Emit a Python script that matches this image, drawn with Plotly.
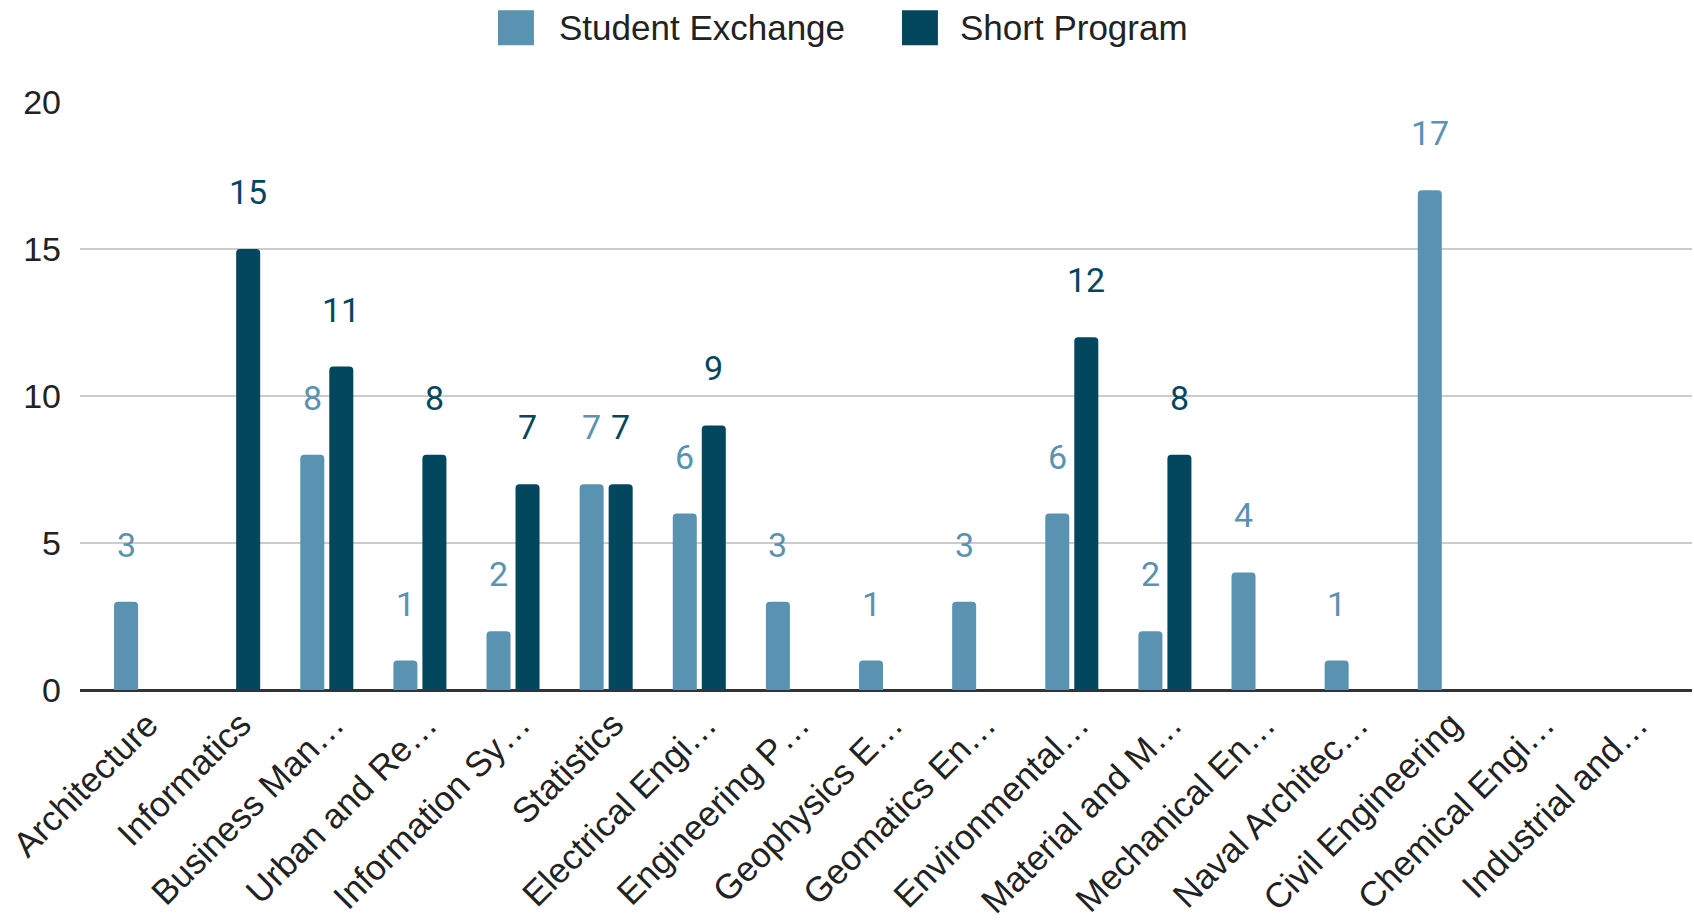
import plotly.graph_objects as go

categories = ["Architecture", "Informatics", "Business Man…", "Urban and Re…",
              "Information Sy…", "Statistics", "Electrical Engi…", "Engineering P…",
              "Geophysics E…", "Geomatics En…", "Environmental…", "Material and M…",
              "Mechanical En…", "Naval Architec…", "Civil Engineering", "Chemical Engi…",
              "Industrial and…"]
student_exchange = [3, None, 8, 1, 2, 7, 6, 3, 1, 3, 6, 2, 4, 1, 17, None, None]
short_program = [None, 15, 11, 8, 7, 7, 9, None, None, None, 12, 8, None, None, None, None, None]
y_ticks = [0, 5, 10, 15, 20]

SE_COLOR = "#5A93B1"
SP_COLOR = "#03475F"
TXT = "#222222"

fig = go.Figure()
fig.add_trace(go.Bar(x=categories, y=student_exchange, name="Student Exchange",
                     marker=dict(color=SE_COLOR, line=dict(width=0)), showlegend=False))
fig.add_trace(go.Bar(x=categories, y=short_program, name="Short Program",
                     marker=dict(color=SP_COLOR, line=dict(width=0)), showlegend=False))

annotations = []
for series, color, shift in [(student_exchange, SE_COLOR, -14.5), (short_program, SP_COLOR, 14.5)]:
    for c, v in zip(categories, series):
        if v is None:
            continue
        annotations.append(dict(x=c, y=v, xref="x", yref="y", text=str(v), showarrow=False,
                                xshift=shift, yshift=57, yanchor="middle", xanchor="center",
                                font=dict(family="Roboto", size=34, color=color)))

# custom legend
legend_items = [("Student Exchange", SE_COLOR, 0.2593, 0.2960),
                ("Short Program", SP_COLOR, 0.5099, 0.5447)]
shapes = []
for name, color, sx, tx in legend_items:
    shapes.append(dict(type="rect", xref="paper", yref="paper", x0=sx, x1=sx + 0.0223,
                       y0=1.0964, y1=1.1559, fillcolor=color, line=dict(width=0), layer="above"))
    annotations.append(dict(x=tx, y=1.127, xref="paper", yref="paper", text=name,
                            showarrow=False, xanchor="left", yanchor="middle",
                            font=dict(family="Liberation Sans", size=35, color=TXT)))

fig.update_layout(
    width=1694, height=922,
    margin=dict(l=80, r=2, t=102, b=232, autoexpand=False),
    paper_bgcolor="white", plot_bgcolor="white",
    barmode="group", bargap=0.377, bargroupgap=0.172, barcornerradius=4,
    annotations=annotations, shapes=shapes,
    showlegend=False,
    font=dict(family="Liberation Sans", size=34, color=TXT),
)
fig.update_xaxes(range=[-0.65, 16.66], tickangle=-45, showgrid=False, ticks="",
                 automargin=False, ticklabelshift=7, ticklabelstandoff=6,
                 tickfont=dict(family="Liberation Sans", size=35, color=TXT))
fig.update_yaxes(range=[0, 20], tickvals=y_ticks, showgrid=True, gridcolor="#CCCCCC",
                 gridwidth=2, zeroline=True, zerolinecolor="#333333", zerolinewidth=3,
                 ticks="", ticklabelstandoff=18, automargin=False,
                 tickfont=dict(family="Liberation Sans", size=34, color=TXT))

fig.write_html("out.html", config={"displayModeBar": False},
               post_script="document.body.style.margin='0';document.body.style.overflow='hidden';")
